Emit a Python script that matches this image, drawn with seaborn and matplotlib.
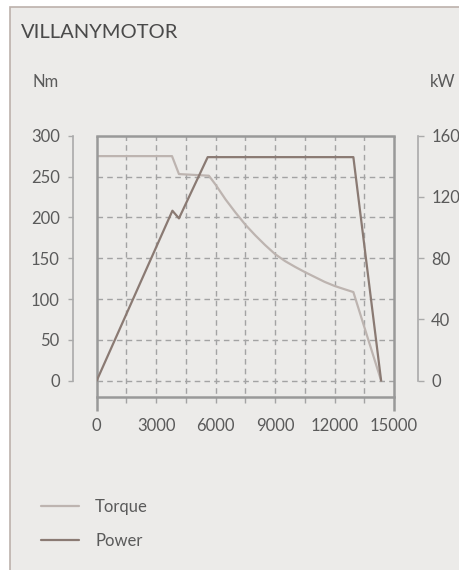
import matplotlib.pyplot as plt
import seaborn as sns
import pandas as pd
from matplotlib.patches import Rectangle
from matplotlib.lines import Line2D

# curve readings (rpm -> Nm / kW)
rpm_torque = [0, 3800, 4150, 5660, 6000, 6500, 7000, 7500, 8000, 8500, 9000, 9500,
              10000, 10500, 11000, 11500, 12000, 12500, 12950, 14350]
torque_nm = [275, 275, 253, 251, 240, 222, 206, 191, 178, 166, 155, 146.5,
             139.5, 133, 127, 121, 116, 112, 108.5, 0]
rpm_power = [0, 3820, 4150, 5600, 12950, 14350]
power_kw = [0, 111, 106, 146, 146, 0]

x_ticks = [0, 3000, 6000, 9000, 12000, 15000]
nm_ticks = [0, 50, 100, 150, 200, 250, 300]
kw_ticks = [0, 40, 80, 120, 160]

c_torque = '#bdb4b0'
c_power = '#8a7a73'
c_frame = '#999999'
c_grid = '#a3a3a3'
c_text = '#5a5a5a'

sns.set_style('white')
plt.rcParams['font.family'] = ['Lato', 'DejaVu Sans']

W, H = 459, 570
fig = plt.figure(figsize=(W / 100, H / 100), dpi=100)
fig.patch.set_facecolor('white')
fig.add_artist(Rectangle((10 / W, -0.1), 1.2, 1.1 - 7 / H, transform=fig.transFigure,
                         facecolor='#ecebe9', edgecolor='#bcb1ab', lw=1.2, zorder=-5))

x0, x1, y0, y1 = 96.7, 394, 135.7, 397
ax = fig.add_axes([x0 / W, 1 - y1 / H, (x1 - x0) / W, (y1 - y0) / H])
ax.set_facecolor('none')
ax2 = ax.twinx()
ax2.set_facecolor('none')

df_t = pd.DataFrame({'rpm': rpm_torque, 'Nm': torque_nm})
df_p = pd.DataFrame({'rpm': rpm_power, 'kW': power_kw})
sns.lineplot(data=df_t, x='rpm', y='Nm', ax=ax, color=c_torque, lw=1.6, zorder=3)
sns.lineplot(data=df_p, x='rpm', y='kW', ax=ax2, color=c_power, lw=1.6, zorder=3)

ax.set_xlim(0, 15000)
ax.set_ylim(-20, 300)
ax2.set_ylim(-160 / 15, 160)

# dashed grid
for v in range(0, 300, 50):
    ax.axhline(v, color=c_grid, lw=1, ls=(0, (4, 3)), zorder=1)
for v in range(1500, 15000, 1500):
    ax.axvline(v, ymin=-0.023, ymax=1, color=c_grid, lw=1, ls=(0, (4, 3)), zorder=1, clip_on=False)

# frame: top/bottom spines, left/right drawn so they reach below the axis
for s in ['top', 'bottom']:
    ax.spines[s].set_color(c_frame)
    ax.spines[s].set_linewidth(1.8)
for v in [0, 15000]:
    ax.axvline(v, ymin=-0.054, ymax=1, color=c_frame, lw=1.8, zorder=4, clip_on=False,
               solid_capstyle='butt')
ax.spines['right'].set_visible(False)

# left Nm scale
ax.spines['left'].set_position(('outward', 17))
ax.spines['left'].set_bounds(0, 300)
ax.spines['left'].set_color('#aaaaaa')
ax.spines['left'].set_linewidth(1.2)
ax.set_yticks(nm_ticks)
ax.tick_params(axis='y', left=True, length=3.6, width=1, color='#aaaaaa', pad=6,
               labelsize=12, labelcolor=c_text)

ax.set_xticks(x_ticks)
ax.tick_params(axis='x', length=0, pad=15, labelsize=12, labelcolor=c_text)
ax.set_xlabel('')
ax.set_ylabel('')

# right kW scale
for s in ['top', 'bottom', 'left']:
    ax2.spines[s].set_visible(False)
ax2.spines['right'].set_position(('outward', 17))
ax2.spines['right'].set_bounds(0, 160)
ax2.spines['right'].set_color('#aaaaaa')
ax2.spines['right'].set_linewidth(1.2)
ax2.set_yticks(kw_ticks)
ax2.tick_params(axis='y', right=True, length=4.3, width=1, color='#aaaaaa', pad=5.5,
                labelsize=12, labelcolor=c_text)
ax2.set_ylabel('')

for a in (ax, ax2):
    if a.get_legend():
        a.get_legend().remove()

fig.text(21 / W, 1 - 32 / H, 'VILLANYMOTOR', fontsize=14.5, color='#4a4a4a', va='center', ha='left')
fig.text(33 / W, 1 - 82 / H, 'Nm', fontsize=12, color=c_text, va='center', ha='left')
fig.text(430 / W, 1 - 82 / H, 'kW', fontsize=12, color=c_text, va='center', ha='left')

handles = [Line2D([], [], color=c_torque, lw=1.6), Line2D([], [], color=c_power, lw=1.6)]
fig.legend(handles, ['Torque', 'Power'], loc='upper left', bbox_to_anchor=(41 / W, 1 - 499 / H),
           frameon=False, fontsize=12, handlelength=2.3, handletextpad=0.95,
           labelspacing=1.08, borderpad=0, borderaxespad=0, labelcolor=c_text)

fig.savefig('out.png', dpi=100)
